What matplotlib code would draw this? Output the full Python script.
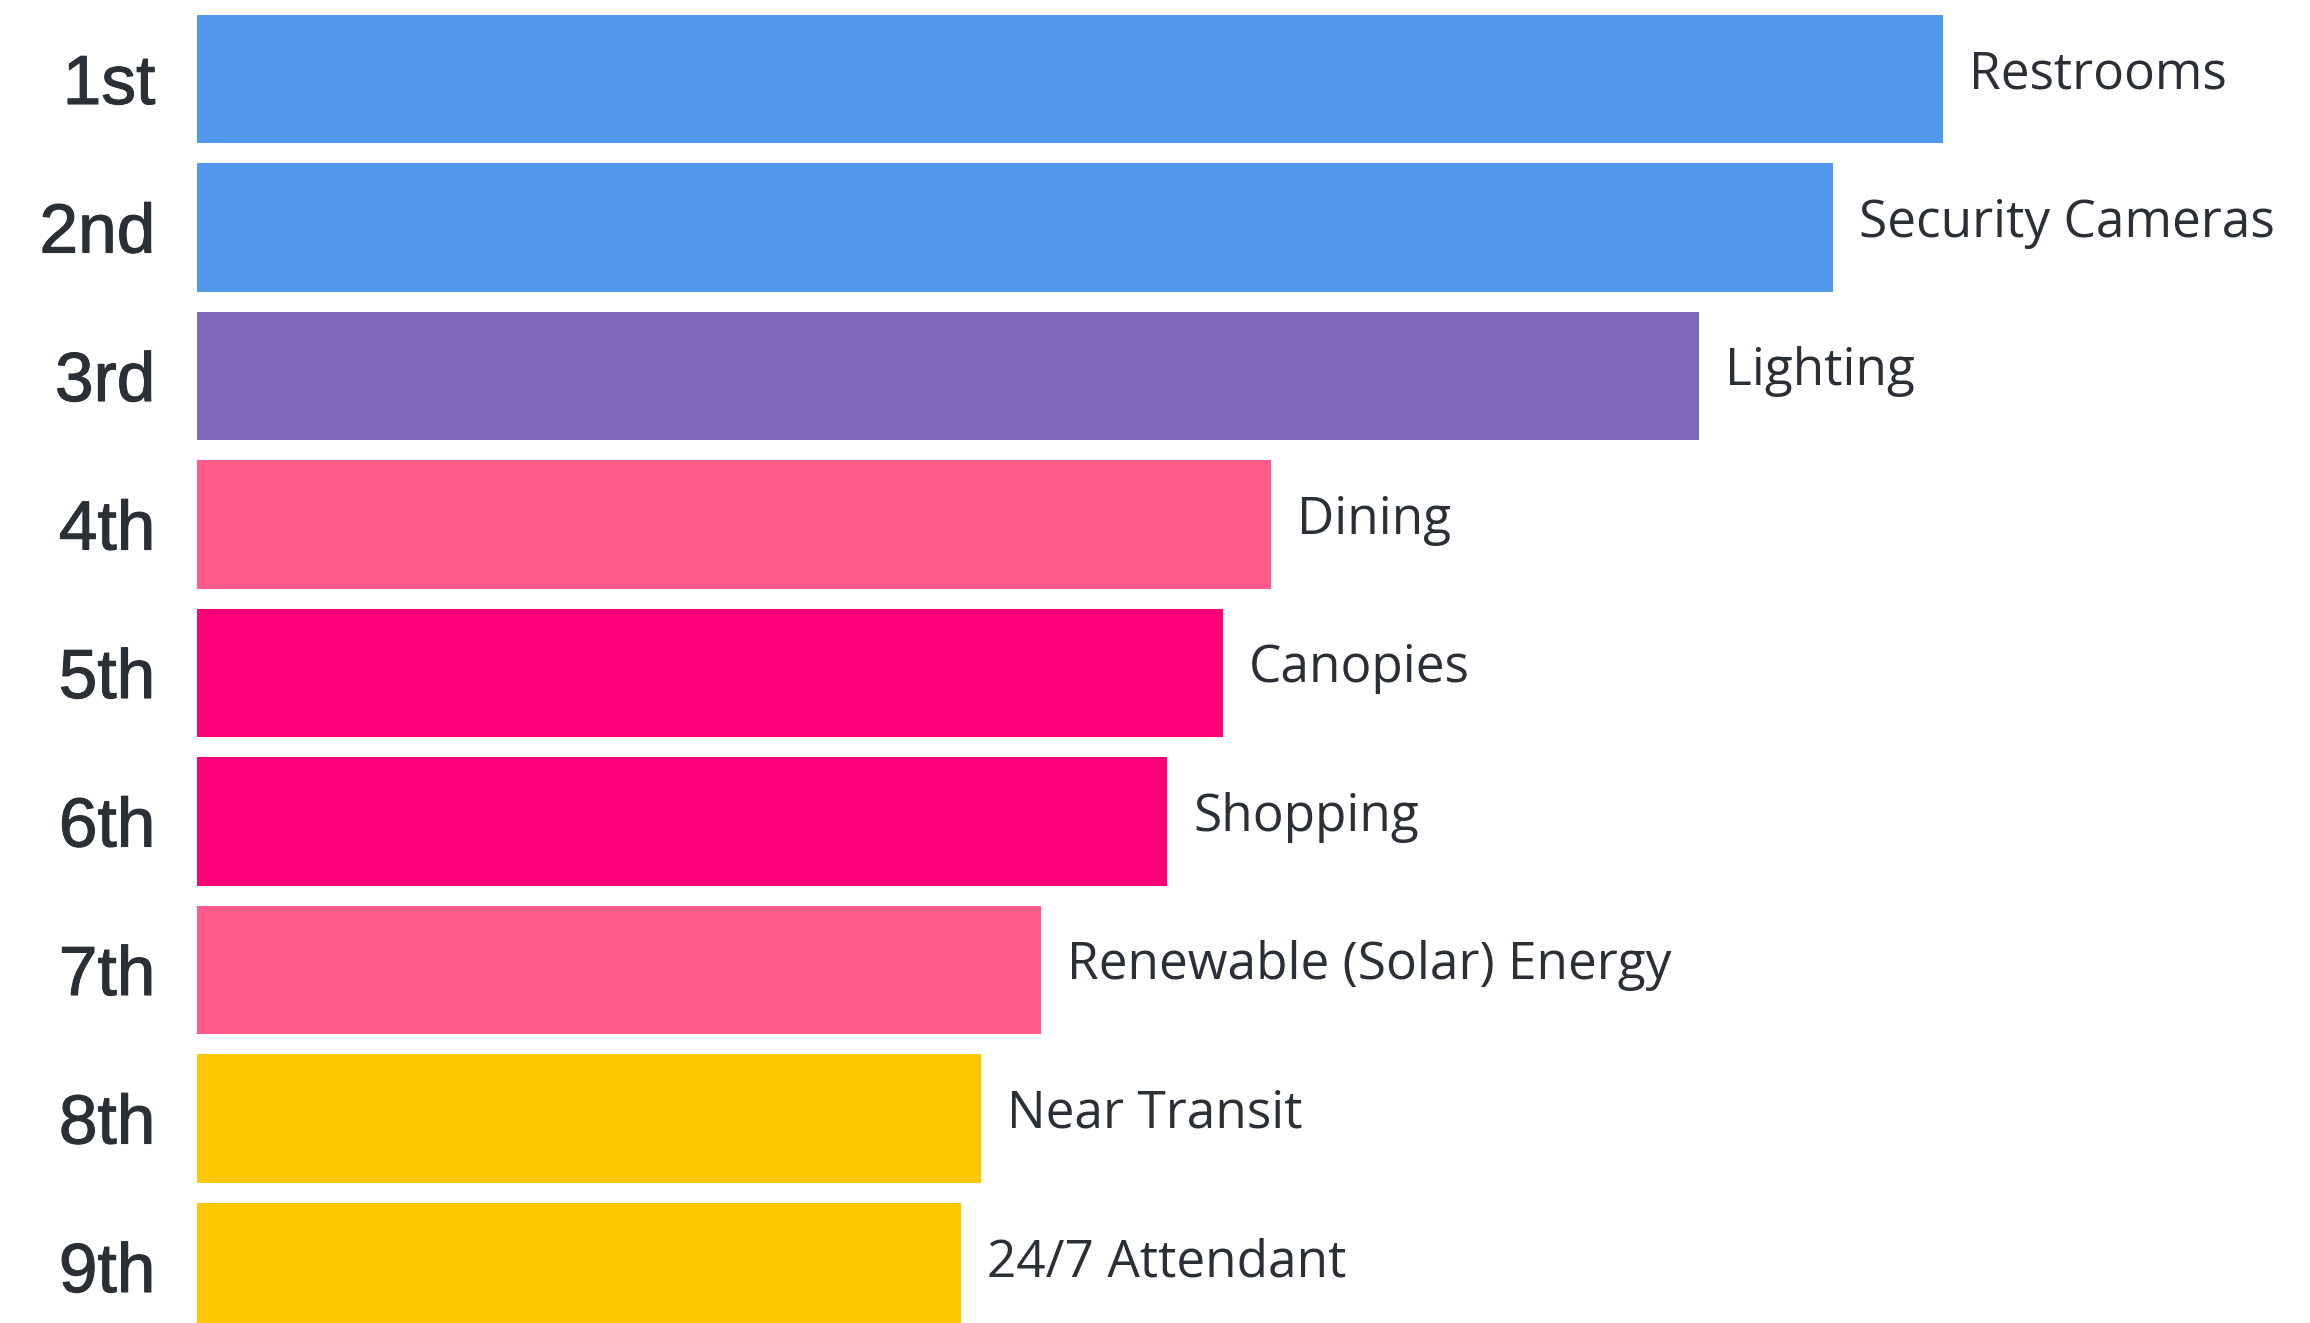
import matplotlib
matplotlib.use("Agg")
import matplotlib.pyplot as plt
import matplotlib.patheffects as pe

# Amenity ranking, most wanted first
ranks = ["1st", "2nd", "3rd", "4th", "5th", "6th", "7th", "8th", "9th"]
amenities = ["Restrooms", "Security Cameras", "Lighting", "Dining", "Canopies",
             "Shopping", "Renewable (Solar) Energy", "Near Transit", "24/7 Attendant"]
scores = [87.3, 81.8, 75.1, 53.7, 51.3, 48.5, 42.2, 39.2, 38.2]
colors = ["#4f98eb", "#4f98eb", "#7d68bb", "#fe5a8a", "#fe0077",
          "#fe0077", "#fe5a8a", "#fdc800", "#fdc800"]

W, H, DPI = 2310, 1323, 100
fig = plt.figure(figsize=(W / DPI, H / DPI), dpi=DPI)
fig.patch.set_facecolor("white")

left_px = 197
ax = fig.add_axes([left_px / W, 0, 1 - left_px / W, 1])
ax.set_facecolor("white")

rows = list(range(len(ranks)))
ax.barh(rows, scores, height=0.862, color=colors, align="center")

# rows are 148.5 px apart, first row centred 79 px below the top edge
pitch, first = 148.5, 79
ax.set_ylim((H - first) / pitch, -first / pitch)
ax.set_xlim(0, (W - left_px) / 20)

text_color = "#2b2f36"
for r, s, name in zip(rows, scores, amenities):
    ax.text(s + 1.3, r - 0.03, name, va="center", ha="left",
            fontsize=37, color=text_color, family="Open Sans")

ax.set_yticks(rows)
ax.set_yticklabels(ranks, fontsize=50, color=text_color,
                   family="Liberation Sans")
for lbl in ax.get_yticklabels():
    lbl.set_path_effects([pe.withStroke(linewidth=0.8, foreground=text_color)])
ax.tick_params(axis="y", length=0, pad=30)
ax.set_xticks([])
for sp in ax.spines.values():
    sp.set_visible(False)

fig.savefig("out.png", dpi=DPI, facecolor="white")
